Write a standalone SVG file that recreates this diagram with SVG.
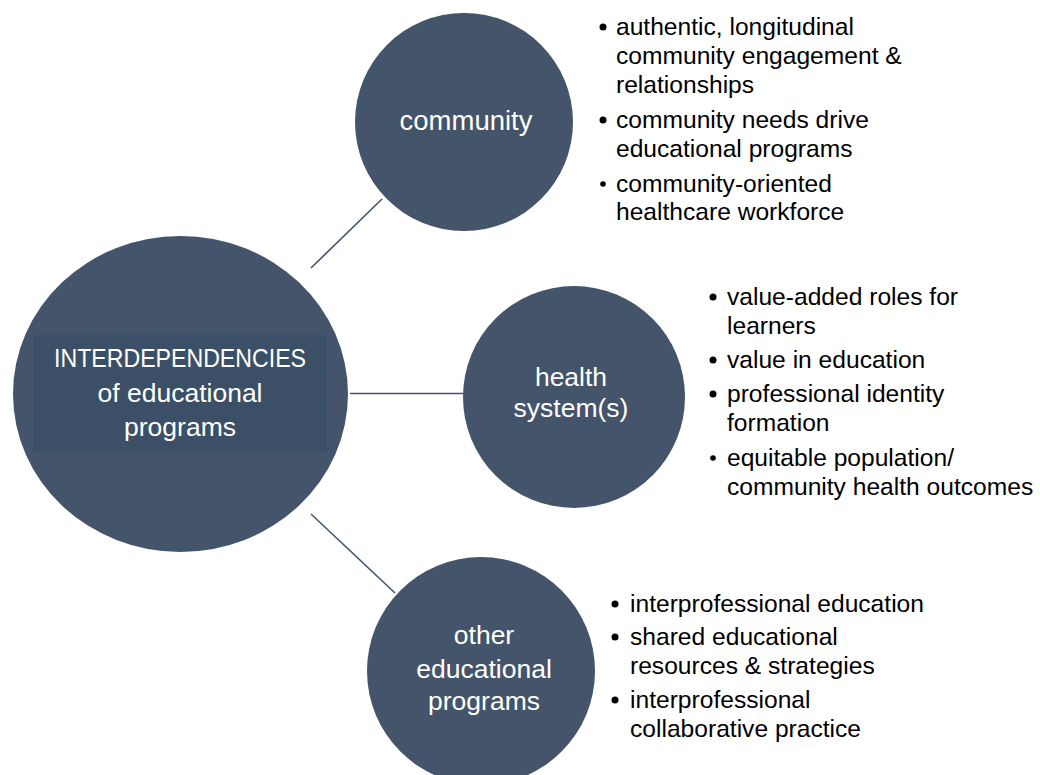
<svg xmlns="http://www.w3.org/2000/svg" width="1040" height="775" viewBox="0 0 1040 775">
<style>
.node{fill:#44546a;}
.ct{font-family:"Liberation Sans",Arial,sans-serif;font-size:26.5px;fill:#ffffff;text-anchor:middle;}
.bt{font-family:"Liberation Sans",Arial,sans-serif;font-size:24.6px;fill:#000000;}
.bul{fill:#000000;}
.conn{stroke:#44546a;stroke-width:1.6;fill:none;}
</style>
<rect width="1040" height="775" fill="#ffffff"/>
<g id="connectors">
<line class="conn" x1="311" y1="268" x2="382" y2="199"/>
<line class="conn" x1="350" y1="393.5" x2="463" y2="393.5"/>
<line class="conn" x1="311" y1="514" x2="395" y2="593"/>
</g>
<g id="center">
<ellipse class="node" cx="180.5" cy="394" rx="167.5" ry="158"/>
<rect x="33" y="335" width="294" height="118" fill="#3b4f66"/>
<text class="ct" x="180" y="367" textLength="252" lengthAdjust="spacingAndGlyphs">INTERDEPENDENCIES</text>
<text class="ct" x="180" y="402">of educational</text>
<text class="ct" x="180" y="436">programs</text>
</g>
<g id="community">
<circle class="node" cx="464" cy="122" r="109"/>
<text class="ct" x="466" y="130" style="font-size:27.5px">community</text>
</g>
<g id="health">
<circle class="node" cx="574" cy="397" r="111"/>
<text class="ct" x="571" y="386">health</text>
<text class="ct" x="571" y="417">system(s)</text>
</g>
<g id="other">
<circle class="node" cx="481" cy="671" r="114"/>
<text class="ct" x="484" y="644">other</text>
<text class="ct" x="484" y="678">educational</text>
<text class="ct" x="484" y="710">programs</text>
</g>
<g id="community-list">
<circle class="bul" cx="603" cy="27" r="3.5"/>
<text class="bt" x="616" y="35">authentic, longitudinal</text>
<text class="bt" x="616" y="64">community engagement &amp;</text>
<text class="bt" x="616" y="93">relationships</text>
<circle class="bul" cx="603" cy="120" r="3.5"/>
<text class="bt" x="616" y="128">community needs drive</text>
<text class="bt" x="616" y="157">educational programs</text>
<circle class="bul" cx="603" cy="184" r="2.8"/>
<text class="bt" x="616" y="192">community-oriented</text>
<text class="bt" x="616" y="220">healthcare workforce</text>
</g>
<g id="health-list">
<circle class="bul" cx="713" cy="297" r="3.5"/>
<text class="bt" x="727" y="305">value-added roles for</text>
<text class="bt" x="727" y="334">learners</text>
<circle class="bul" cx="713" cy="360" r="3.5"/>
<text class="bt" x="727" y="368">value in education</text>
<circle class="bul" cx="713" cy="394" r="3.5"/>
<text class="bt" x="727" y="402">professional identity</text>
<text class="bt" x="727" y="431">formation</text>
<circle class="bul" cx="713" cy="458" r="2.8"/>
<text class="bt" x="727" y="466">equitable population/</text>
<text class="bt" x="727" y="495">community health outcomes</text>
</g>
<g id="other-list">
<circle class="bul" cx="615" cy="604" r="3.5"/>
<text class="bt" x="630" y="612">interprofessional education</text>
<circle class="bul" cx="615" cy="637" r="3.5"/>
<text class="bt" x="630" y="645">shared educational</text>
<text class="bt" x="630" y="674">resources &amp; strategies</text>
<circle class="bul" cx="615" cy="700" r="3.5"/>
<text class="bt" x="630" y="708">interprofessional</text>
<text class="bt" x="630" y="737">collaborative practice</text>
</g>
</svg>
